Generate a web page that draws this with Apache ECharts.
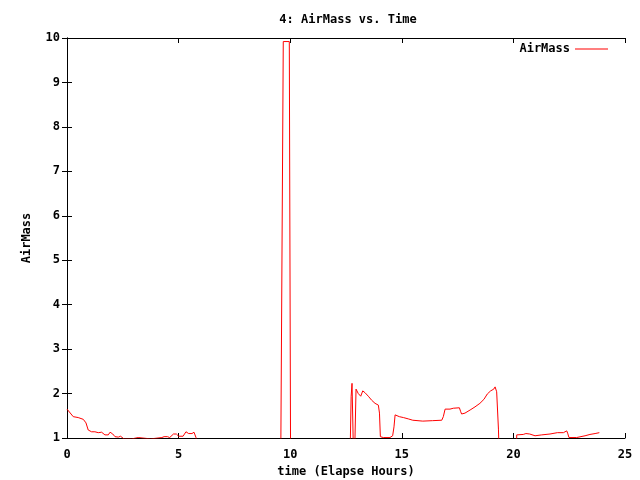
<!DOCTYPE html>
<html><head><meta charset="utf-8">
<script src="https://cdn.jsdelivr.net/npm/echarts@6/dist/echarts.min.js"></script>
<style>html,body{margin:0;padding:0;background:#fff}#c{width:640px;height:480px}</style>
</head><body><div id="c"></div>
<script>
var times = [0,0.28,0.5,0.73,0.85,0.95,1.1,1.25,1.4,1.55,1.7,1.85,1.93,2.05,2.15,2.3,2.4,2.55,2.9,2.94,3.19,3.25,3.75,3.8,4.25,4.35,4.5,4.6,4.77,4.9,5.0,5.2,5.33,5.45,5.6,5.69,5.78,5.85,
  9.57,9.69,9.96,10.02,12.66,12.73,12.77,12.86,12.95,13.05,13.16,13.25,13.35,13.5,13.65,13.8,13.95,14.0,14.04,14.17,14.47,14.59,14.65,14.7,14.89,15.07,15.29,15.49,15.94,16.38,16.79,16.86,16.94,17.16,17.31,17.58,17.64,17.68,17.83,18.06,18.28,18.5,18.68,18.83,18.98,19.12,19.18,19.25,19.33,19.4,
  20.1,20.15,20.44,20.56,20.73,20.97,21.27,21.64,21.97,22.24,22.39,22.43,22.49,22.83,22.9,23.21,23.43,23.66,23.85];
var airmass = [1.65,1.48,1.46,1.42,1.34,1.18,1.14,1.14,1.12,1.13,1.07,1.07,1.13,1.09,1.03,1.02,1.04,0.98,0.98,1.01,1.01,0.98,0.98,1.01,1.01,1.03,1.03,1.01,1.09,1.09,1.04,1.04,1.14,1.10,1.10,1.13,1.01,0,
  0,9.92,9.92,0,0,1.93,2.23,0,2.10,2.00,1.94,2.06,2.02,1.94,1.85,1.78,1.74,1.56,1.03,1.01,1.01,1.05,1.25,1.52,1.48,1.46,1.43,1.40,1.38,1.39,1.40,1.48,1.65,1.65,1.67,1.68,1.59,1.54,1.56,1.63,1.70,1.78,1.87,1.99,2.06,2.10,2.15,2.04,1.20,0,
  0,1.07,1.08,1.10,1.09,1.05,1.07,1.09,1.12,1.12,1.16,1.11,1.01,1.01,1.02,1.05,1.08,1.10,1.12];
var xTicks = [0,5,10,15,20,25];
var yTicks = [1,2,3,4,5,6,7,8,9,10];

var FONT = 'DejaVu Sans Mono';
var data = times.map(function(t,i){return [t, airmass[i]];});
var chart = echarts.init(document.getElementById('c'), null, {renderer:'canvas'});
var axisLine = {show:true, lineStyle:{color:'#000', width:1}};
var tick = {show:true, inside:true, length:5, lineStyle:{color:'#000', width:1}};
var lbl = {color:'#000', fontFamily:FONT, fontWeight:'bold', fontSize:12};
chart.setOption({
  animation:false,
  backgroundColor:'#fff',
  title:{text:'4: AirMass vs. Time', left:343, top:9, textAlign:'center',
    textStyle:{fontFamily:FONT, fontWeight:'bold', fontSize:12, color:'#000'}},
  legend:{right:27, top:38, align:'right', itemWidth:33, itemHeight:10, itemGap:9, icon:'path://M0,0L33,0L33,1L0,1Z',
    textStyle:{fontFamily:FONT, fontWeight:'bold', fontSize:12, color:'#000'}, data:['AirMass']},
  grid:{left:67, right:15, top:38, bottom:42, containLabel:false, outerBoundsMode:'none'},
  xAxis:[{type:'value', min:xTicks[0], max:xTicks[xTicks.length-1], interval:5, axisLine:axisLine, axisTick:tick,
      splitLine:{show:false}, axisLabel:Object.assign({margin:11}, lbl),
      name:'time (Elapse Hours)', nameLocation:'middle', nameGap:28, nameTextStyle:lbl},
    {type:'value', position:'top', min:0, max:25, interval:5, axisLine:axisLine, axisTick:tick,
      splitLine:{show:false}, axisLabel:{show:false}}],
  yAxis:[{type:'value', min:yTicks[0], max:yTicks[yTicks.length-1], interval:1, axisLine:axisLine, axisTick:tick,
      splitLine:{show:false}, axisLabel:Object.assign({margin:7}, lbl),
      name:'AirMass', nameLocation:'middle', nameGap:34, nameRotate:90, nameTextStyle:lbl},
    {type:'value', position:'right', min:1, max:10, interval:1, axisLine:axisLine, axisTick:tick,
      splitLine:{show:false}, axisLabel:{show:false}}],
  series:[{name:'AirMass', type:'line', data:data, symbol:'none', clip:true,
    lineStyle:{color:'#ff0000', width:1}, itemStyle:{color:'#ff0000'}}]
});
</script></body></html>
